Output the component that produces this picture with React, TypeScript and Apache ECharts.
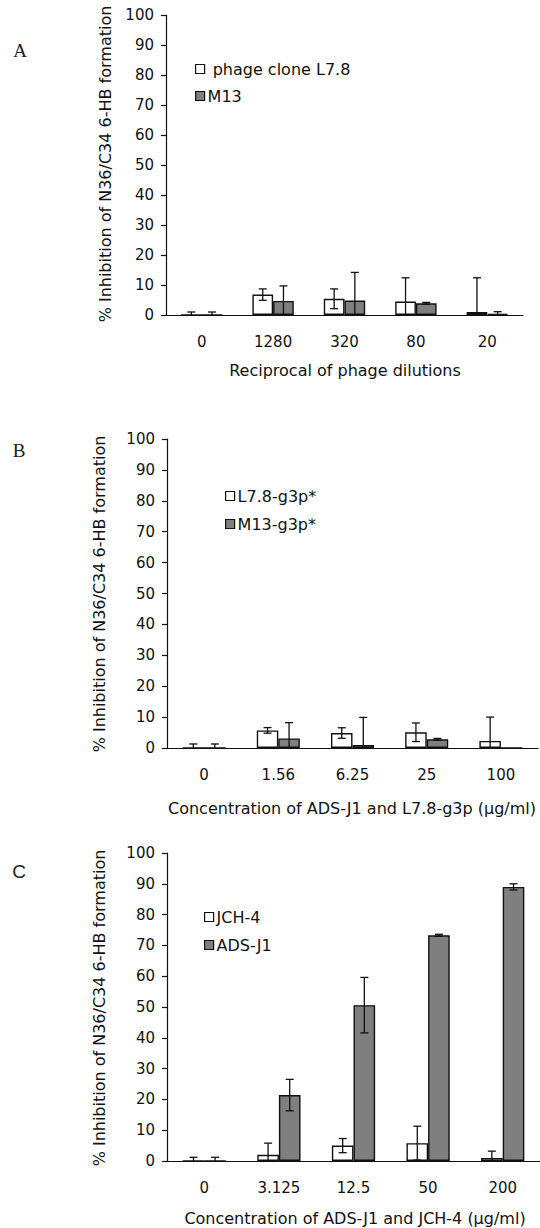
import React, { useEffect, useRef } from "react";
import * as echarts from "echarts";

// ---------- data ----------
const catsA = ["0", "1280", "320", "80", "20"];
const cloneL78 = [0, 6.8, 5.4, 4.5, 1.0];
const cloneL78Err = [1.0, 1.9, 3.3, 7.9, 11.4];
const m13 = [0, 4.7, 4.8, 3.9, 0.3];
const m13Err = [1.0, 5.0, 9.4, 0.3, 0.8];

const catsB = ["0", "1.56", "6.25", "25", "100"];
const l78g3p = [0, 5.7, 4.85, 5.1, 2.3];
const l78g3pErr = [1.3, 0.9, 1.7, 3.0, 7.7];
const m13g3p = [0, 3.1, 1.0, 2.8, 0];
const m13g3pErr = [1.3, 5.1, 8.9, 0.3, 0];

const catsC = ["0", "3.125", "12.5", "50", "200"];
const jch4 = [0, 2.0, 5.0, 5.8, 1.0];
const jch4Err = [1.2, 3.8, 2.3, 5.5, 2.2];
const adsJ1 = [0, 21.4, 50.6, 73.3, 89.0];
const adsJ1Err = [1.2, 5.1, 9.0, 0.3, 1.0];

const yTitle = "% Inhibition of N36/C34 6-HB formation";
const xTitles = [
  "Reciprocal of phage dilutions",
  "Concentration of ADS-J1 and L7.8-g3p (µg/ml)",
  "Concentration of ADS-J1 and JCH-4 (µg/ml)",
];

const FONT = '"DejaVu Sans", "Liberation Sans", sans-serif';
const BAR_FRAC = 0.29;
const GRAY = "#7f7f7f";

function errData(vals: number[], errs: number[], side: number) {
  const out: number[][] = [];
  vals.forEach((v, i) => {
    if (errs[i] <= 0) return;
    const lo = v - errs[i];
    out.push([i, Math.max(0, lo), v + errs[i], side, lo > 0 ? 1 : 0]);
  });
  return out;
}

function renderErr(params: any, api: any) {
  const cat = api.value(0);
  const lo = api.value(1);
  const hi = api.value(2);
  const side = api.value(3);
  const lowCap = api.value(4);
  const band = api.size([1, 0])[0];
  const pHi = api.coord([cat, hi]);
  const pLo = api.coord([cat, lo]);
  const x = pHi[0] + (side * band * BAR_FRAC) / 2;
  const cap = 4;
  const st = { stroke: "#111", lineWidth: 1.3 };
  const children: any[] = [
    { type: "line", shape: { x1: x, y1: pHi[1], x2: x, y2: pLo[1] }, style: st },
    { type: "line", shape: { x1: x - cap, y1: pHi[1], x2: x + cap, y2: pHi[1] }, style: st },
  ];
  if (lowCap) {
    children.push({
      type: "line",
      shape: { x1: x - cap, y1: pLo[1], x2: x + cap, y2: pLo[1] },
      style: st,
    });
  }
  return { type: "group", children };
}

const grids = [
  { left: 166, top: 15, width: 357, height: 300 },
  { left: 167, top: 439, width: 371, height: 309 },
  { left: 167, top: 853, width: 377, height: 308 },
];

const panels = [
  { cats: catsA, s1: ["phage clone L7.8", cloneL78, cloneL78Err], s2: ["M13", m13, m13Err] },
  { cats: catsB, s1: ["L7.8-g3p*", l78g3p, l78g3pErr], s2: ["M13-g3p*", m13g3p, m13g3pErr] },
  { cats: catsC, s1: ["JCH-4", jch4, jch4Err], s2: ["ADS-J1", adsJ1, adsJ1Err] },
];

const legendPos = [
  { left: 190, top: 56, itemGap: 11 },
  { left: 220, top: 483, itemGap: 12 },
  { left: 199, top: 904, itemGap: 12 },
];

const yTitlePos = [
  [105, 164],
  [99, 594],
  [99, 1008],
];
const xTitlePos = [
  [345, 370],
  [352, 808],
  [355, 1218],
];

function buildOption() {
  const xAxis: any[] = [];
  const yAxis: any[] = [];
  const series: any[] = [];
  const legend: any[] = [];
  const graphic: any[] = [];

  panels.forEach((p, gi) => {
    xAxis.push({
      type: "category",
      gridIndex: gi,
      data: p.cats,
      axisLine: { lineStyle: { color: "#111", width: 1.2 } },
      axisTick: { show: false },
      axisLabel: { margin: 19, fontSize: 15, color: "#111", fontFamily: FONT },
    });
    yAxis.push({
      type: "value",
      gridIndex: gi,
      min: 0,
      max: 100,
      interval: 10,
      axisLine: { show: true, lineStyle: { color: "#111", width: 1.2 } },
      axisTick: { show: true, length: 5, lineStyle: { color: "#111", width: 1.2 } },
      axisLabel: { margin: 12, fontSize: 15, color: "#111", fontFamily: FONT },
      splitLine: { show: false },
    });
    const [n1, v1, e1] = p.s1 as [string, number[], number[]];
    const [n2, v2, e2] = p.s2 as [string, number[], number[]];
    series.push({
      type: "bar",
      name: n1,
      xAxisIndex: gi,
      yAxisIndex: gi,
      data: v1,
      barWidth: BAR_FRAC * 100 + "%",
      barGap: "0%",
      itemStyle: { color: "#ffffff", borderColor: "#111", borderWidth: 1.4 },
      z: 2,
    });
    series.push({
      type: "bar",
      name: n2,
      xAxisIndex: gi,
      yAxisIndex: gi,
      data: v2,
      barWidth: BAR_FRAC * 100 + "%",
      barGap: "0%",
      itemStyle: { color: GRAY, borderColor: "#111", borderWidth: 1.4 },
      z: 2,
    });
    series.push({
      type: "custom",
      xAxisIndex: gi,
      yAxisIndex: gi,
      renderItem: renderErr,
      data: errData(v1, e1, -1).concat(errData(v2, e2, 1)),
      encode: { x: 0, y: [1, 2] },
      clip: false,
      z: 5,
      silent: true,
    });
    legend.push({
      data: [n1, n2],
      orient: "vertical",
      left: legendPos[gi].left,
      top: legendPos[gi].top,
      itemGap: legendPos[gi].itemGap,
      itemWidth: 9,
      itemHeight: 9,
      icon: "rect",
      selectedMode: false,
      formatter: (name: string) => (name === "phage clone L7.8" ? " " + name : name),
      textStyle: { fontSize: 16, color: "#111", fontFamily: FONT, padding: [0, 0, 0, -2] },
      itemStyle: { borderColor: "#111", borderWidth: 1.2 },
    });
    graphic.push({
      type: "text",
      x: yTitlePos[gi][0],
      y: yTitlePos[gi][1],
      rotation: Math.PI / 2,
      style: {
        text: yTitle,
        fontSize: 16,
        fontFamily: FONT,
        fill: "#111",
        align: "center",
        verticalAlign: "middle",
      },
    });
    graphic.push({
      type: "text",
      x: xTitlePos[gi][0],
      y: xTitlePos[gi][1],
      style: {
        text: xTitles[gi],
        fontSize: 16,
        fontFamily: FONT,
        fill: "#111",
        align: "center",
        verticalAlign: "middle",
      },
    });
  });

  const letters = [
    { t: "A", x: 20, y: 50, f: '"Liberation Serif", "DejaVu Serif", serif' },
    { t: "B", x: 19, y: 450, f: '"Liberation Serif", "DejaVu Serif", serif' },
    { t: "C", x: 19, y: 871, f: '"Liberation Sans", sans-serif' },
  ];
  letters.forEach((l) =>
    graphic.push({
      type: "text",
      x: l.x,
      y: l.y,
      style: {
        text: l.t,
        fontSize: 19,
        fontFamily: l.f,
        fill: "#222",
        align: "center",
        verticalAlign: "middle",
      },
    })
  );

  return {
    animation: false,
    backgroundColor: "#ffffff",
    grid: grids,
    xAxis,
    yAxis,
    series,
    legend,
    graphic,
  };
}

export default function App() {
  const ref = useRef<HTMLDivElement>(null);
  useEffect(() => {
    if (!ref.current) return;
    const chart = echarts.init(ref.current, undefined, { renderer: "svg" });
    chart.setOption(buildOption() as any);
    return () => chart.dispose();
  }, []);
  return (
    <div
      ref={ref}
      style={{ position: "absolute", left: 0, top: 0, width: 540, height: 1228, background: "#fff" }}
    />
  );
}
